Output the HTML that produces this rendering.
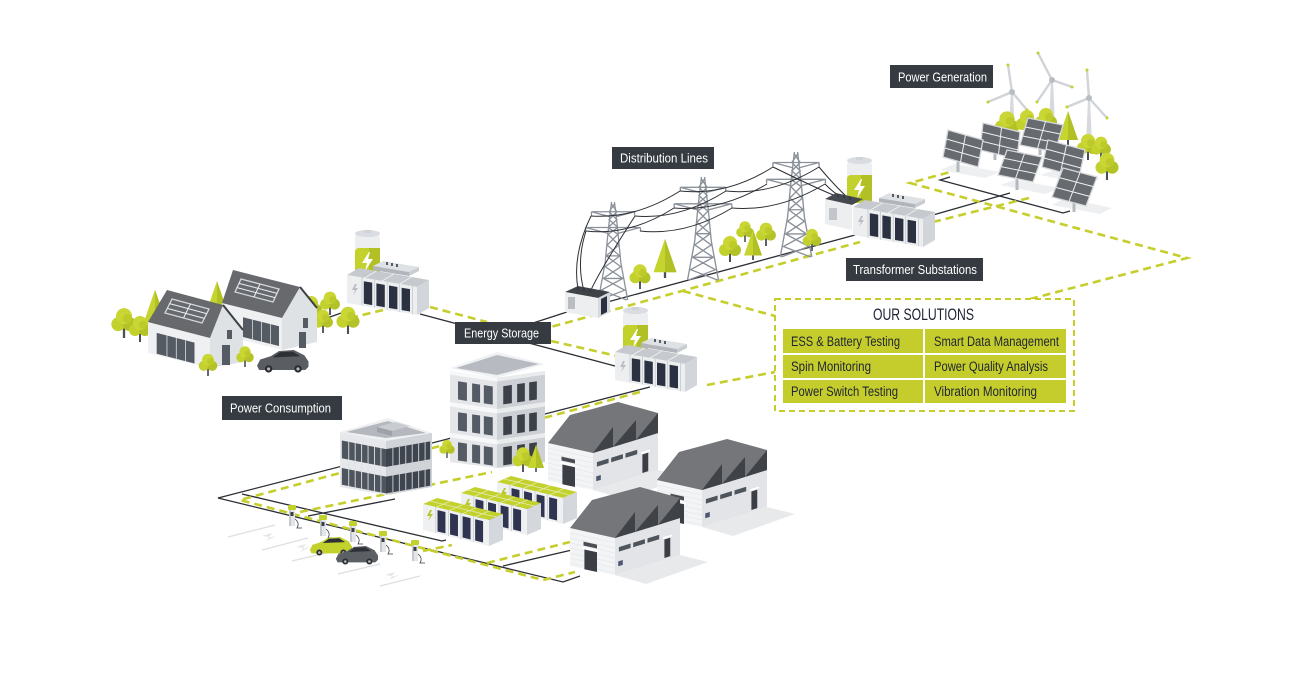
<!DOCTYPE html>
<html><head><meta charset="utf-8"><style>
html,body{margin:0;padding:0;background:#fff;}
svg{display:block;}
text{font-family:"Liberation Sans Narrow","Liberation Sans",sans-serif;}
</style></head><body>
<svg width="1291" height="679" viewBox="0 0 1291 679" xmlns="http://www.w3.org/2000/svg" xmlns:xlink="http://www.w3.org/1999/xlink">
<defs>
 <g id="rt"><rect x="-1" y="-9" width="2" height="9" fill="#4b5058"/><circle cx="-5" cy="-12" r="6" fill="#c3d12d"/><circle cx="5" cy="-12" r="6" fill="#b3c226"/><circle cx="0" cy="-19" r="7" fill="#c9d634"/><circle cx="3" cy="-17" r="4" fill="#bccb2a"/></g>
 <g id="ct"><rect x="-1" y="-6" width="2" height="6" fill="#4b5058"/><polygon points="0,-34 -10,-5 10,-5" fill="#c6d430"/><polygon points="0,-34 0,-5 10,-5" fill="#b1c025"/></g>
 <path id="tw" fill="none" stroke="#8b9199" stroke-width="1.3" d="M-1.5,0 L-5,30 L-8,62 L-15,100 M1.5,0 L5,30 L8,62 L15,100 M-22,10 L22,10 M-22,10 L-3,15 M22,10 L3,15 M-28,26 L28,26 M-28,26 L-5,32 M28,26 L5,32 M-1.5,2 L4,10 L-4,18 L5,26 L-5,33 L6,44 L-7,55 L8,66 L-10,78 L12,90 L-14,100 M1.5,2 L-4,10 L4,18 L-5,26 L5,33 L-6,44 L7,55 L-8,66 L10,78 L-12,90 L14,100 M-7,55 L7,55 M-10,78 L10,78 M-22,10 v4 M22,10 v4 M-28,26 v4 M28,26 v4"/>
 <g id="pn"><rect width="1" height="1" fill="#676a6f" stroke="#d5d8db" stroke-width="1.3" vector-effect="non-scaling-stroke"/><path d="M0.5,0V1M0,0.333H1M0,0.667H1" stroke="#eef0f2" stroke-width="1" vector-effect="non-scaling-stroke" fill="none"/></g>
 <g id="bat">
  <rect x="0" y="3" width="25" height="43" rx="5" fill="#eceef0"/>
  <rect x="0" y="18" width="25" height="28" rx="4" fill="#c3d12d"/>
  <rect x="14" y="18" width="11" height="26" fill="#b2c026"/>
  <ellipse cx="12.5" cy="3.5" rx="12.5" ry="3.5" fill="#d9dce0"/>
  <rect x="9" y="0" width="7" height="3" fill="#cfd2d6"/>
  <polygon points="14,22 7,33 12,33 10,41 18,29 13,29 15,22" fill="#fff"/>
 </g>
 <g id="cab">
  <polygon points="0,0 12,-7 82,5 70,12" fill="#c6c9ce"/>
  <path d="M17.5,3 L29.5,-4 M35,6 L47,-1 M52.5,9 L64.5,2" stroke="#eef0f2" stroke-width="1"/>
  <polygon points="26,-9 36,-14 72,-8 62,-3" fill="#dfe2e5"/>
  <polygon points="26,-9 62,-3 62,1 26,-5" fill="#b2b6bc"/>
  <polygon points="62,-3 72,-8 72,-4 62,1" fill="#c9ccd1"/>
  <path d="M40,-13v3M45,-12v3M50,-11v3" stroke="#333a45" stroke-width="1.6"/>
  <polygon points="70,12 82,5 82,33 70,40" fill="#d2d5d9"/>
  <polygon points="0,0 70,12 70,40 0,28" fill="#eceef0"/>
  <g transform="matrix(70,12,0,28,0,0)">
   <rect x="0.24" y="0.12" width="0.12" height="0.8" fill="#2c3141"/>
   <rect x="0.42" y="0.12" width="0.12" height="0.8" fill="#2c3141"/>
   <rect x="0.6" y="0.12" width="0.12" height="0.8" fill="#2c3141"/>
   <rect x="0.78" y="0.12" width="0.12" height="0.8" fill="#2c3141"/>
   <rect x="0.21" y="0" width="0.008" height="1" fill="#b5b9bf"/>
   <rect x="0.39" y="0" width="0.008" height="1" fill="#b5b9bf"/>
   <rect x="0.57" y="0" width="0.008" height="1" fill="#b5b9bf"/>
   <rect x="0.75" y="0" width="0.008" height="1" fill="#b5b9bf"/>
   <rect x="0.93" y="0" width="0.008" height="1" fill="#b5b9bf"/>
  </g>
  <polygon points="8,9 5,15 8,15 6,20 11,13 8,13 10,9" fill="#b9bdc3"/>
 </g>
 <g id="stor"><use xlink:href="#bat" x="8" y="-45"/><use xlink:href="#cab"/></g>
 <g id="lst">
  <polygon points="0,0 14,-6 80,10 66,16" fill="#c3d12d"/>
  <path d="M13.2,3.2 L27.2,-2.8 M26.4,6.4 L40.4,0.4 M39.6,9.6 L53.6,3.6 M52.8,12.8 L66.8,6.8 M7,-3 L73,13" stroke="#e4eab0" stroke-width="0.8"/>
  <polygon points="66,16 80,10 80,36 66,42" fill="#d4d7db"/>
  <polygon points="0,0 66,16 66,42 0,26" fill="#eef0f2"/>
  <g transform="matrix(66,16,0,26,0,0)">
   <rect x="0.22" y="0.1" width="0.12" height="0.82" fill="#2f3550"/>
   <rect x="0.41" y="0.1" width="0.12" height="0.82" fill="#2f3550"/>
   <rect x="0.6" y="0.1" width="0.12" height="0.82" fill="#2f3550"/>
   <rect x="0.79" y="0.1" width="0.12" height="0.82" fill="#2f3550"/>
   <rect x="0.19" y="0" width="0.01" height="1" fill="#c0c4c9"/>
   <rect x="0.38" y="0" width="0.01" height="1" fill="#c0c4c9"/>
   <rect x="0.57" y="0" width="0.01" height="1" fill="#c0c4c9"/>
   <rect x="0.76" y="0" width="0.01" height="1" fill="#c0c4c9"/>
  </g>
  <polygon points="7,6 4,12 7,12 5,17 10,10 7,10 9,6" fill="#b8c628"/>
 </g>
 <g id="fac">
  <polygon points="45,47 110,27 138,34 76,56" fill="#e8e9eb"/>
  <polygon points="0,0 45,10 45,47 0,38" fill="#f3f4f5"/>
  <path d="M0,5 L45,15 M0,10 L45,20 M0,15 L45,25 M0,20 L45,30 M0,25 L45,35 M0,30 L45,40 M0,35 L45,45" stroke="#e1e3e6" stroke-width="0.6"/>
  <polygon points="45,10 110,-10 110,27 45,47" fill="#e2e4e7"/>
  <polygon points="0,0 22,-28 48,-35 70,-41 110,-30 110,-10 45,10" fill="#747679"/>
  <polygon points="45,10 65,-16 65,4" fill="#3f4348"/>
  <polygon points="65,4 88,-23 88,-3" fill="#3f4348"/>
  <polygon points="88,-3 110,-30 110,-10" fill="#3f4348"/>
  <g transform="matrix(45,10,0,38,0,0)">
   <rect x="0.3" y="0.28" width="0.3" height="0.1" fill="#4a4e54"/>
   <rect x="0.26" y="0.42" width="0.38" height="0.05" fill="#fdfdfd"/>
   <rect x="0.32" y="0.48" width="0.28" height="0.52" fill="#3b3f45"/>
  </g>
  <g transform="matrix(65,-20,0,37,45,10)">
   <rect x="0.06" y="0.28" width="0.18" height="0.12" fill="#4e545c"/>
   <rect x="0.28" y="0.28" width="0.18" height="0.12" fill="#4e545c"/>
   <rect x="0.5" y="0.28" width="0.18" height="0.12" fill="#4e545c"/>
   <rect x="0.74" y="0.38" width="0.14" height="0.05" fill="#fff"/>
   <rect x="0.76" y="0.45" width="0.09" height="0.5" fill="#3b3f45"/>
   <rect x="0.05" y="0.66" width="0.07" height="0.13" fill="#4e5570"/>
  </g>
 </g>
 <g id="car">
  <path d="M1,15 L4,9 L14,6 L22,1 L36,0 L46,5 L50,11 L50,16 L47,19 L3,19 Z"/>
  <path d="M16,7 L23,2 L35,1.5 L42,6 Z" fill="#2d3137"/>
  <circle cx="12" cy="18" r="3.5" fill="#2a2d31"/><circle cx="40" cy="18" r="3.5" fill="#2a2d31"/>
  <circle cx="12" cy="18" r="1.5" fill="#bbb"/><circle cx="40" cy="18" r="1.5" fill="#bbb"/>
 </g>
 <g id="chg"><rect x="-3" y="-19" width="6" height="18" fill="#e3e5e8"/><rect x="-3" y="-19" width="2" height="18" fill="#c5c8cd"/><rect x="-4" y="-22" width="8" height="5" rx="1" fill="#c3d12d"/><rect x="-1.5" y="-15" width="3" height="4" fill="#3a3f47"/><path d="M3,-8 q5,4 2,9 l5,0" fill="none" stroke="#3a3f47" stroke-width="0.8"/></g>
</defs>

<rect width="1291" height="679" fill="#fff"/>

<!-- connection lines -->
<g fill="none" stroke="#2b2e34" stroke-width="1.3">
 <path d="M327,318 L347,311"/>
 <path d="M420,314 L615,366"/>
 <path d="M530,324 L567,312"/>
 <path d="M600,304 L855,235"/>
 <path d="M650,387 L218,498 L563,582 L580,576"/>
 <path d="M242,494 L442,541 L446,540"/>
 <path d="M308,516 L395,499"/>
 <path d="M503,566 L572,550"/>
 <path d="M933,215 L1010,193"/>
 <path d="M950,177 L940,180 L1063,213 L1070,211"/>
</g>
<g fill="none" stroke="#c6ce2c" stroke-width="2.6" stroke-dasharray="8 5">
 <path d="M350,318 L383,310"/>
 <path d="M430,307 L487,322"/>
 <path d="M551,341 L617,356"/>
 <path d="M540,330 L860,242"/>
 <path d="M683,291 L775,316"/>
 <path d="M707,385 L775,372"/>
 <path d="M1030,299 L1187,258 L910,183 L950,172"/>
 <path d="M933,222 L1033,197"/>
 <path d="M640,392 L240,500 L543,580 L575,572"/>
 <path d="M300,512 L492,472"/>
 <path d="M423,551 L452,545"/>
 <path d="M487,563 L570,542"/>
</g>

<!-- wind turbines -->
<g stroke-linecap="round">
 <polygon points="1011,92 1013,92 1015,140 1008,140" fill="#d6d9dd"/>
 <polygon points="1051,80 1053,80 1055,125 1049,125" fill="#d6d9dd"/>
 <polygon points="1088,98 1090,98 1092,145 1086,145" fill="#d6d9dd"/>
 <g stroke="#d0d3d7" stroke-width="2.4">
  <path d="M1012,92 L1008,65 M1012,92 L988,102 M1012,92 L1027,110"/>
  <path d="M1052,80 L1038,53 M1052,80 L1037,102 M1052,80 L1072,87"/>
  <path d="M1089,98 L1087,70 M1089,98 L1067,107 M1089,98 L1107,118"/>
 </g>
 <g fill="#c3d12d">
  <circle cx="1008" cy="65" r="1.5"/><circle cx="988" cy="102" r="1.5"/><circle cx="1027" cy="110" r="1.5"/>
  <circle cx="1038" cy="53" r="1.5"/><circle cx="1037" cy="102" r="1.5"/><circle cx="1072" cy="87" r="1.5"/>
  <circle cx="1087" cy="70" r="1.5"/><circle cx="1067" cy="107" r="1.5"/><circle cx="1107" cy="118" r="1.5"/>
 </g>
 <circle cx="1012" cy="92" r="3" fill="#b9bdc2"/><circle cx="1052" cy="80" r="3" fill="#b9bdc2"/><circle cx="1089" cy="98" r="3" fill="#b9bdc2"/>
</g>
<!-- solar farm trees -->
<use xlink:href="#rt" transform="translate(1007,140) scale(1.1)"/>
<use xlink:href="#rt" transform="translate(1027,136) scale(1)"/>
<use xlink:href="#rt" transform="translate(1046,134) scale(1)"/>
<use xlink:href="#ct" transform="translate(1068,145) scale(1)"/>
<use xlink:href="#rt" transform="translate(1088,160) scale(1)"/>
<use xlink:href="#rt" transform="translate(1101,160) scale(0.9)"/>
<use xlink:href="#rt" transform="translate(1107,180) scale(1.05)"/>
<!-- panel shadows -->
<g fill="#eeeff1">
 <polygon points="940,170 985,178 1000,172 955,164"/>
 <polygon points="1000,185 1045,194 1060,188 1015,180"/>
 <polygon points="1040,175 1090,185 1100,178 1055,170"/>
 <polygon points="1052,205 1100,214 1112,208 1065,198"/>
</g>
<!-- poles -->
<g stroke="#b5b9be" stroke-width="3">
 <path d="M1040,140V155 M995,148V160 M1062,165V178 M958,160V172 M1017,172V190 M1074,195V212"/>
</g>
<!-- panels -->
<use xlink:href="#pn" transform="matrix(35,7,-8,27,1028,118)"/>
<use xlink:href="#pn" transform="matrix(37,9,-3,27,983,123)"/>
<use xlink:href="#pn" transform="matrix(37,10,-6,27,1048,140)"/>
<use xlink:href="#pn" transform="matrix(35,10,-5,27,948,130)"/>
<use xlink:href="#pn" transform="matrix(35,7,-9,25,1007,150)"/>
<use xlink:href="#pn" transform="matrix(34,9,-11,29,1063,168)"/>

<!-- towers -->
<use xlink:href="#tw" transform="translate(613,202) scale(0.98)"/>
<use xlink:href="#tw" transform="translate(703,177) scale(1.03)"/>
<use xlink:href="#tw" transform="translate(796,152) scale(1.05)"/>
<!-- tower trees -->
<use xlink:href="#rt" transform="translate(640,289) scale(0.95)"/>
<use xlink:href="#ct" transform="translate(665,278) scale(1.15)"/>
<use xlink:href="#rt" transform="translate(730,262) scale(1)"/>
<use xlink:href="#rt" transform="translate(745,242) scale(0.8)"/>
<use xlink:href="#ct" transform="translate(753,260) scale(0.9)"/>
<use xlink:href="#rt" transform="translate(766,246) scale(0.9)"/>
<use xlink:href="#rt" transform="translate(812,251) scale(0.85)"/>
<!-- wires -->
<g fill="none" stroke="#2b2e34" stroke-width="1">
 <path d="M591,216 Q636,219 680,191"/>
 <path d="M635,216 Q680,220 726,191"/>
 <path d="M586,231 Q630,236 674,208"/>
 <path d="M640,231 Q686,236 732,208"/>
 <path d="M680,191 Q727,196 773,167"/>
 <path d="M726,191 Q772,196 819,167"/>
 <path d="M674,208 Q720,212 767,184"/>
 <path d="M732,208 Q778,212 825,184"/>
 <path d="M819,167 Q835,186 848,198"/>
 <path d="M825,184 Q836,195 842,197"/>
 <path d="M773,167 Q820,190 836,196"/>
 <path d="M591,216 Q572,255 578,289"/>
 <path d="M586,231 Q576,262 584,291"/>
 <path d="M635,216 Q600,270 590,292"/>
</g>

<!-- substation -->
<use xlink:href="#bat" x="847" y="157"/>
<polygon points="825,199 836,193 863,199 852,205" fill="#464a50"/>
<polygon points="825,199 852,205 852,230 825,224" fill="#eceef0"/>
<rect x="829" y="208" width="8" height="12" fill="#c2c6cb"/>
<path d="M838,197v-3M844,198v-3M850,200v-3" stroke="#333a45" stroke-width="1.8"/>
<use xlink:href="#cab" transform="translate(853,207)"/>

<!-- houses area trees behind -->
<use xlink:href="#ct" transform="translate(155,334) scale(1.3)"/>
<use xlink:href="#ct" transform="translate(217,310) scale(0.85)"/>
<use xlink:href="#rt" transform="translate(124,338) scale(1.15)"/>
<use xlink:href="#rt" transform="translate(140,342) scale(1)"/>
<use xlink:href="#rt" transform="translate(311,322) scale(1)"/>
<use xlink:href="#rt" transform="translate(330,315) scale(0.9)"/>
<use xlink:href="#rt" transform="translate(323,333) scale(0.9)"/>
<use xlink:href="#rt" transform="translate(348,334) scale(1.05)"/>
<!-- house B -->
<polygon points="222,303 282,318 282,350 222,335" fill="#eef0f2"/>
<g transform="matrix(60,15,0,32,222,303)"><rect x="0.35" y="0.28" width="0.6" height="0.62" fill="#555b63"/><rect x="0.5" y="0.28" width="0.012" height="0.62" fill="#e5e7ea"/><rect x="0.65" y="0.28" width="0.012" height="0.62" fill="#e5e7ea"/><rect x="0.8" y="0.28" width="0.012" height="0.62" fill="#e5e7ea"/></g>
<polygon points="282,318 300,287 317,308 317,342 282,350" fill="#dfe2e5"/>
<rect x="303" y="318" width="5" height="10" fill="#555b63"/>
<rect x="299" y="332" width="7" height="16" fill="#555b63"/>
<polygon points="233,270 300,287 282,318 222,303" fill="#67696d"/>
<path d="M300,287 L317,308" stroke="#3d4044" stroke-width="2"/>
<use xlink:href="#pn" transform="matrix(38,10,-6,13,241,279)"/>
<!-- house A -->
<polygon points="148,322 210,338 210,368 148,353" fill="#eef0f2"/>
<g transform="matrix(62,16,0,31,148,322)"><rect x="0.14" y="0.28" width="0.61" height="0.67" fill="#555b63"/><rect x="0.3" y="0.28" width="0.012" height="0.67" fill="#e5e7ea"/><rect x="0.45" y="0.28" width="0.012" height="0.67" fill="#e5e7ea"/><rect x="0.6" y="0.28" width="0.012" height="0.67" fill="#e5e7ea"/></g>
<polygon points="210,338 223,305 243,330 243,362 210,368" fill="#dfe2e5"/>
<rect x="227" y="330" width="5" height="9" fill="#555b63"/>
<rect x="222" y="345" width="8" height="20" fill="#555b63"/>
<polygon points="167,290 223,305 210,338 148,322" fill="#67696d"/>
<path d="M223,305 L243,330" stroke="#3d4044" stroke-width="2"/>
<use xlink:href="#pn" transform="matrix(37,10,-7,14,172,299)"/>
<use xlink:href="#rt" transform="translate(208,376) scale(0.85)"/>
<use xlink:href="#rt" transform="translate(245,367) scale(0.8)"/>
<use xlink:href="#car" fill="#5a5d62" transform="translate(256,350) scale(1.05)"/>

<!-- storage 1 -->
<use xlink:href="#stor" transform="translate(347,275)"/>

<!-- transformer -->
<polygon points="565,292 578,286 610,292 598,298" fill="#3f4348"/>
<polygon points="565,292 598,298 598,318 565,312" fill="#eceef0"/>
<rect x="568" y="297" width="7" height="12" fill="#b9bdc2"/>
<polygon points="598,298 610,292 610,312 598,318" fill="#d6d9dd"/>
<polygon points="601,299 607,296 607,312 601,315" fill="#2c3141"/>
<path d="M578,290v-3M584,291v-3M590,292v-3" stroke="#333a45" stroke-width="1.8"/>

<!-- storage 2 -->
<use xlink:href="#stor" transform="translate(615,352)"/>

<!-- tall building -->
<polygon points="450,368 497,352 545,364 497,378" fill="#f0f1f3"/>
<polygon points="456,368 497,355 539,364 497,375" fill="#b7bbc1"/>
<polygon points="450,371 497,378 497,468 450,462" fill="#e4e6e9"/>
<polygon points="497,378 545,371 545,462 497,468" fill="#cdd0d5"/>
<g transform="matrix(47,7,0,91,450,371)">
 <rect x="0" y="0" width="1" height="0.04" fill="#f7f8f9"/>
 <rect x="0" y="0.34" width="1" height="0.05" fill="#f7f8f9"/>
 <rect x="0" y="0.68" width="1" height="0.05" fill="#f7f8f9"/>
 <g fill="#555b64">
 <rect x="0.17" y="0.1" width="0.19" height="0.2"/><rect x="0.47" y="0.1" width="0.17" height="0.2"/><rect x="0.72" y="0.1" width="0.19" height="0.2"/>
 <rect x="0.17" y="0.44" width="0.19" height="0.2"/><rect x="0.47" y="0.44" width="0.17" height="0.2"/><rect x="0.72" y="0.44" width="0.19" height="0.2"/>
 <rect x="0.17" y="0.77" width="0.19" height="0.2"/><rect x="0.47" y="0.77" width="0.17" height="0.2"/><rect x="0.72" y="0.77" width="0.19" height="0.2"/>
 </g>
</g>
<g transform="matrix(48,-7,0,91,497,378)">
 <rect x="0" y="0" width="1" height="0.04" fill="#e9ebed"/>
 <rect x="0" y="0.34" width="1" height="0.05" fill="#e9ebed"/>
 <rect x="0" y="0.68" width="1" height="0.05" fill="#e9ebed"/>
 <g fill="#3c4149">
 <rect x="0.13" y="0.1" width="0.18" height="0.2"/><rect x="0.42" y="0.1" width="0.16" height="0.2"/><rect x="0.67" y="0.1" width="0.16" height="0.2"/>
 <rect x="0.13" y="0.44" width="0.18" height="0.2"/><rect x="0.42" y="0.44" width="0.16" height="0.2"/><rect x="0.67" y="0.44" width="0.16" height="0.2"/>
 <rect x="0.13" y="0.77" width="0.18" height="0.2"/><rect x="0.42" y="0.77" width="0.16" height="0.2"/><rect x="0.67" y="0.77" width="0.16" height="0.2"/>
 </g>
</g>

<!-- small office -->
<polygon points="340,432 388,418 432,433 386,441" fill="#eff0f2"/>
<polygon points="346,432 388,421 426,433 386,438" fill="#b4b8be"/>
<polygon points="377,427 395,422 410,426 392,431" fill="#c9ccd1"/>
<polygon points="377,427 392,431 392,436 377,432" fill="#9da2a9"/>
<polygon points="340,432 386,441 386,495 340,487" fill="#e6e8eb"/>
<polygon points="386,441 432,433 432,487 386,495" fill="#d0d3d8"/>
<g transform="matrix(46,9,0,54,340,432)">
 <rect x="0.04" y="0.15" width="0.96" height="0.33" fill="#4f555e"/>
 <rect x="0.04" y="0.66" width="0.96" height="0.31" fill="#4f555e"/>
 <g fill="#dfe2e5"><rect x="0.18" y="0.15" width="0.02" height="0.82"/><rect x="0.32" y="0.15" width="0.02" height="0.82"/><rect x="0.46" y="0.15" width="0.02" height="0.82"/><rect x="0.6" y="0.15" width="0.02" height="0.82"/><rect x="0.74" y="0.15" width="0.02" height="0.82"/><rect x="0.88" y="0.15" width="0.02" height="0.82"/></g>
</g>
<g transform="matrix(46,-8,0,54,386,441)">
 <rect x="0" y="0.15" width="0.96" height="0.33" fill="#3f454e"/>
 <rect x="0" y="0.66" width="0.96" height="0.31" fill="#3f454e"/>
 <g fill="#cfd2d6"><rect x="0.14" y="0.15" width="0.02" height="0.82"/><rect x="0.28" y="0.15" width="0.02" height="0.82"/><rect x="0.42" y="0.15" width="0.02" height="0.82"/><rect x="0.56" y="0.15" width="0.02" height="0.82"/><rect x="0.7" y="0.15" width="0.02" height="0.82"/><rect x="0.84" y="0.15" width="0.02" height="0.82"/></g>
</g>

<!-- factory 1 -->
<use xlink:href="#fac" transform="translate(548,443)"/>
<!-- trees near buildings -->
<use xlink:href="#rt" transform="translate(447,458) scale(0.7)"/>
<use xlink:href="#rt" transform="translate(523,472) scale(0.95)"/>
<use xlink:href="#ct" transform="translate(536,472) scale(0.8)"/>

<!-- lower storage cluster -->
<use xlink:href="#lst" transform="translate(497,482)"/>
<use xlink:href="#lst" transform="translate(461,493)"/>
<use xlink:href="#lst" transform="translate(423,504)"/>

<!-- factories 2,3 -->
<use xlink:href="#fac" transform="translate(657,480)"/>
<use xlink:href="#fac" transform="translate(570,528)"/>

<!-- parking -->
<g stroke="#dcdee1" stroke-width="1.2">
 <path d="M228,537 L275,525 M262,550 L308,538 M292,561 L330,552 M338,574 L380,564 M380,586 L420,576"/>
</g>
<g fill="#e3e5e8">
 <polygon points="262,536 272,533 268,538 276,536 266,541 270,537"/>
 <polygon points="296,547 306,544 302,549 310,547 300,552 304,548"/>
 <polygon points="385,575 395,572 391,577 399,575 389,580 393,576"/>
</g>
<!-- chargers and cars -->
<use xlink:href="#chg" x="292" y="527"/>
<use xlink:href="#chg" x="323" y="537"/>
<use xlink:href="#car" fill="#c3d12d" transform="translate(309,537) scale(0.86)"/>
<use xlink:href="#chg" x="353" y="543"/>
<use xlink:href="#car" fill="#5c5f64" transform="translate(335,546) scale(0.86)"/>
<use xlink:href="#chg" x="383" y="553"/>
<use xlink:href="#chg" x="415" y="562"/>

<!-- labels -->
<g font-size="13" fill="#fff">
 <rect x="890" y="65" width="103" height="23" fill="#353b41"/>
 <text x="898" y="81.5" textLength="89" lengthAdjust="spacingAndGlyphs">Power Generation</text>
 <rect x="612" y="147" width="102" height="22" fill="#353b41"/>
 <text x="620" y="162.5" textLength="88" lengthAdjust="spacingAndGlyphs">Distribution Lines</text>
 <rect x="846" y="258" width="137" height="23" fill="#353b41"/>
 <text x="853" y="274" textLength="124" lengthAdjust="spacingAndGlyphs">Transformer Substations</text>
 <rect x="455" y="322" width="96" height="22" fill="#353b41"/>
 <text x="464" y="337.5" textLength="75" lengthAdjust="spacingAndGlyphs">Energy Storage</text>
 <rect x="222" y="396" width="120" height="24" fill="#353b41"/>
 <text x="230" y="412.5" textLength="101" lengthAdjust="spacingAndGlyphs">Power Consumption</text>
</g>

<!-- solutions box -->
<rect x="775" y="299" width="299" height="112" fill="#fff" stroke="#c6ce2c" stroke-width="2" stroke-dasharray="6 4"/>
<text x="873" y="320" font-size="16.5" fill="#1d2233" textLength="101" lengthAdjust="spacingAndGlyphs">OUR SOLUTIONS</text>
<g fill="#c5cd2d">
 <rect x="783" y="329" width="140" height="24"/><rect x="925" y="329" width="141" height="24"/>
 <rect x="783" y="355" width="140" height="23"/><rect x="925" y="355" width="141" height="23"/>
 <rect x="783" y="380" width="140" height="23"/><rect x="925" y="380" width="141" height="23"/>
</g>
<g font-size="13.5" fill="#1f2430">
 <text x="791" y="346" textLength="109" lengthAdjust="spacingAndGlyphs">ESS &amp; Battery Testing</text>
 <text x="934" y="346" textLength="125" lengthAdjust="spacingAndGlyphs">Smart Data Management</text>
 <text x="791" y="371" textLength="80" lengthAdjust="spacingAndGlyphs">Spin Monitoring</text>
 <text x="934" y="371" textLength="114" lengthAdjust="spacingAndGlyphs">Power Quality Analysis</text>
 <text x="791" y="396" textLength="107" lengthAdjust="spacingAndGlyphs">Power Switch Testing</text>
 <text x="934" y="396" textLength="103" lengthAdjust="spacingAndGlyphs">Vibration Monitoring</text>
</g>
</svg>
</body></html>
